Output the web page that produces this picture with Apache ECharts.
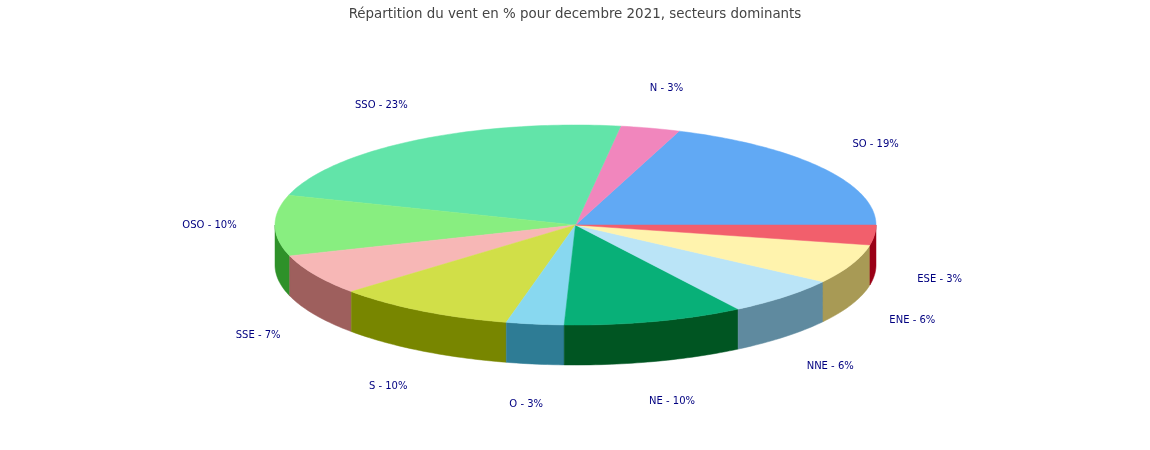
<!DOCTYPE html>
<html>
<head>
<meta charset="utf-8">
<script src="https://cdn.jsdelivr.net/npm/echarts@6/dist/echarts.min.js"></script>
<style>
html, body { margin: 0; padding: 0; background: #fff; }
#main { width: 1150px; height: 450px; }
</style>
</head>
<body>
<div id="main"></div>
<script>
// secteurs dominants, dans l'ordre du tracé (sens trigo depuis 3 h)
var secteurs = ['SO', 'N', 'SSO', 'OSO', 'SSE', 'S', 'O', 'NE', 'NNE', 'ENE', 'ESE'];
var pourcentages = [19.4, 3.2, 22.6, 9.8, 6.6, 9.7, 3.1, 9.7, 6.3, 6.4, 3.2];

// couleurs du dessus et du flanc de chaque part
var couleurs = ['#61a9f4', '#f186bd', '#62e4a9', '#88ee80', '#f7b7b6', '#d1df48',
	'#88d8f0', '#08b078', '#bae4f7', '#fff3ad', '#f25f6c'];
var couleursFlanc = ['#2f6fb0', '#a04a78', '#2a9a68', '#2e9129', '#9e5f5d', '#788600',
	'#2e7c95', '#005522', '#5f8a9f', '#a89a55', '#9a0016'];

var total = pourcentages.reduce(function(a, b) { return a + b; }, 0);
var cumul = [];
var acc = 0;
for (var i = 0; i < pourcentages.length; i++) {
	cumul.push(acc);
	acc += pourcentages[i];
}

// géométrie de la vue 3D (ellipse + épaisseur)
var rx = 300.5, ry = 100, epaisseur = 40;
var lrx = 366, lry = 141;

function pointEllipse(cx, cy, t, dy) {
	return [cx + rx * Math.cos(t), cy - ry * Math.sin(t) + (dy || 0)];
}

function renderPart(params, api) {
	var idx = params.dataIndex;
	var valeur = api.value(1);
	var cx = api.getWidth() / 2 + 0.5;
	var cy = api.getHeight() / 2;
	var a1 = cumul[idx] / total * Math.PI * 2;
	var a2 = a1 + valeur / total * Math.PI * 2;
	var pas = Math.PI / 180;
	var children = [];

	// flanc visible : portion avant (entre pi et 2 pi)
	var f1 = Math.max(a1, Math.PI), f2 = Math.min(a2, Math.PI * 2);
	if (f2 > f1) {
		var haut = [], bas = [];
		for (var t = f1; t < f2; t += pas) {
			haut.push(pointEllipse(cx, cy, t));
			bas.push(pointEllipse(cx, cy, t, epaisseur));
		}
		haut.push(pointEllipse(cx, cy, f2));
		bas.push(pointEllipse(cx, cy, f2, epaisseur));
		children.push({
			type : 'polygon',
			z2 : 1,
			shape : { points : haut.concat(bas.reverse()) },
			style : { fill : couleursFlanc[idx], stroke : couleursFlanc[idx], lineWidth : 0.5 }
		});
	}

	// dessus
	var pts = [[cx, cy]];
	for (var t2 = a1; t2 < a2; t2 += pas) {
		pts.push(pointEllipse(cx, cy, t2));
	}
	pts.push(pointEllipse(cx, cy, a2));
	children.push({
		type : 'polygon',
		z2 : 2,
		shape : { points : pts },
		style : { fill : couleurs[idx], stroke : couleurs[idx], lineWidth : 0.5 }
	});

	// étiquette
	var mid = (a1 + a2) / 2;
	var s = Math.sin(mid);
	var lx = cx + lrx * Math.cos(mid);
	var ly = cy - lry * s + (s < -0.05 ? epaisseur : 0);
	children.push({
		type : 'text',
		z2 : 3,
		style : {
			x : lx,
			y : ly,
			text : secteurs[idx] + ' - ' + Math.round(valeur) + '%',
			fill : '#000080',
			font : '10px "DejaVu Sans"',
			align : 'center',
			verticalAlign : 'middle'
		}
	});

	return { type : 'group', children : children };
}

var option = {
	animation : false,
	backgroundColor : '#ffffff',
	title : {
		text : 'Répartition du vent en % pour decembre 2021, secteurs dominants',
		left : 'center',
		top : 3,
		textStyle : {
			fontSize : 13.4,
			fontWeight : 'normal',
			color : '#444444',
			fontFamily : 'DejaVu Sans'
		}
	},
	series : [ {
		type : 'custom',
		coordinateSystem : 'none',
		renderItem : renderPart,
		data : secteurs.map(function(s, i) { return [i, pourcentages[i]]; })
	} ]
};

var myChart = echarts.init(document.getElementById('main'));
myChart.setOption(option);
</script>
</body>
</html>
